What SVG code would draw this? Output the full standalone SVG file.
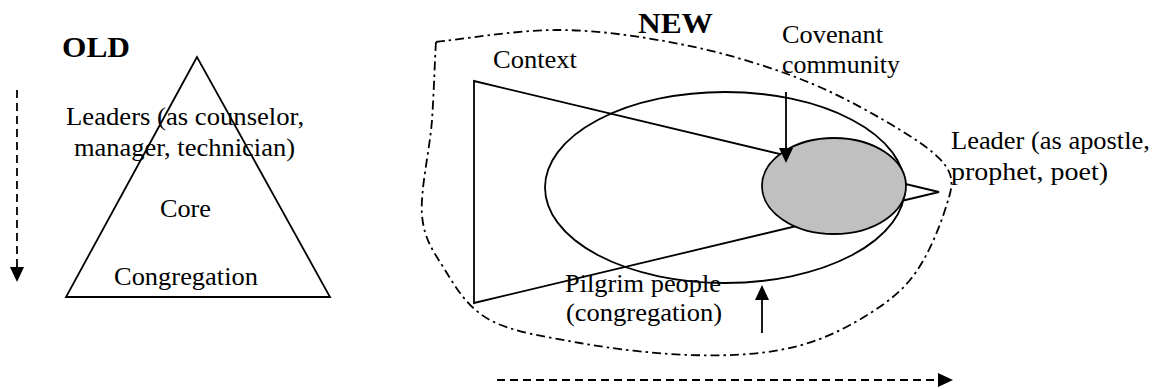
<svg xmlns="http://www.w3.org/2000/svg" width="1159" height="389" viewBox="0 0 1159 389">
  <defs>
    <style>
      text { fill: #000; }
      .t { font-size: 25px; }
      .b { font-size: 29px; font-weight: bold; }
      .ln { fill: none; stroke: #000; stroke-width: 1.8; }
      .dash { fill: none; stroke: #000; stroke-width: 1.8; stroke-dasharray: 8 5; }
      .dd { fill: none; stroke: #000; stroke-width: 1.8; stroke-dasharray: 9 4 2.5 4; }
    </style>
    <marker id="ah" markerUnits="userSpaceOnUse" markerWidth="16" markerHeight="15" refX="0" refY="7" orient="auto">
      <path d="M0,0 L15,7 L0,14 z" fill="#000"/>
    </marker>
  </defs>
  <rect width="1159" height="389" fill="#fff"/>

  <g id="old" font-family="Liberation Serif, DejaVu Serif, serif">
    <text class="b" x="62" y="57" textLength="68" lengthAdjust="spacingAndGlyphs">OLD</text>
    <g id="old-triangle">
      <polygon class="ln" points="197,57 66,297 330,297"/>
    </g>
    <text class="t" transform="translate(66,125) scale(1.067,1)" x="0" y="0">Leaders (as counselor,</text>
    <text class="t" x="74" y="156" textLength="221" lengthAdjust="spacingAndGlyphs">manager, technician)</text>
    <text class="t" x="160" y="217" textLength="51" lengthAdjust="spacingAndGlyphs">Core</text>
    <text class="t" x="114" y="285" textLength="144" lengthAdjust="spacingAndGlyphs">Congregation</text>
  </g>

  <g id="new" font-family="Liberation Serif, DejaVu Serif, serif">
    <text class="b" x="638" y="33" textLength="75" lengthAdjust="spacingAndGlyphs">NEW</text>
    <g id="boundary">
      <path class="dd" d="M436,42 C456,40 516,30 557,30 C598,30 641,36.5 680,44 C719,51.5 757,63 790,75 C823,87 854,103 880,118 C906,133 934,150 945,165 C956,180 951,191 945,210 C939,229 926,261 910,280 C894,299 872,313 850,325 C828,337 807,345 780,350 C753,355 723,356 690,355 C657,354 613,349 580,343 C547,337 512,332 490,320 C468,308 456,288 445,270 C434,252 424,240 422,215 C420,190 430,149 432,120 C434,91 435,55 436,42 Z"/>
    </g>
    <g id="context">
      <polygon class="ln" points="474,81 939,192 474,303"/>
      <text class="t" x="493" y="68" textLength="84" lengthAdjust="spacingAndGlyphs">Context</text>
    </g>
    <g id="pilgrim-people">
      <ellipse class="ln" cx="725" cy="187.5" rx="180" ry="95.5"/>
      <text class="t" x="565" y="292" textLength="156" lengthAdjust="spacingAndGlyphs">Pilgrim people</text>
      <text class="t" x="566" y="321" textLength="156" lengthAdjust="spacingAndGlyphs">(congregation)</text>
    </g>
    <g id="covenant-community">
      <ellipse cx="834" cy="186" rx="72" ry="48" fill="#c0c0c0" stroke="#000" stroke-width="1.8"/>
      <text class="t" x="782" y="43" textLength="101" lengthAdjust="spacingAndGlyphs">Covenant</text>
      <text class="t" x="782" y="73" textLength="118" lengthAdjust="spacingAndGlyphs">community</text>
    </g>
    <g id="leader">
      <text class="t" transform="translate(951,149) scale(1.058,1)" x="0" y="0">Leader (as apostle,</text>
      <text class="t" x="951" y="180" textLength="157" lengthAdjust="spacingAndGlyphs">prophet, poet)</text>
    </g>
  </g>

  <g id="connectors">
    <line class="dash" x1="17" y1="90" x2="17" y2="267" marker-end="url(#ah)"/>
    <line class="ln" x1="786" y1="92" x2="786" y2="148" marker-end="url(#ah)"/>
    <line class="ln" x1="762" y1="333" x2="762" y2="300" marker-end="url(#ah)"/>
    <line class="dash" x1="497" y1="380" x2="938" y2="380" marker-end="url(#ah)"/>
  </g>
</svg>
